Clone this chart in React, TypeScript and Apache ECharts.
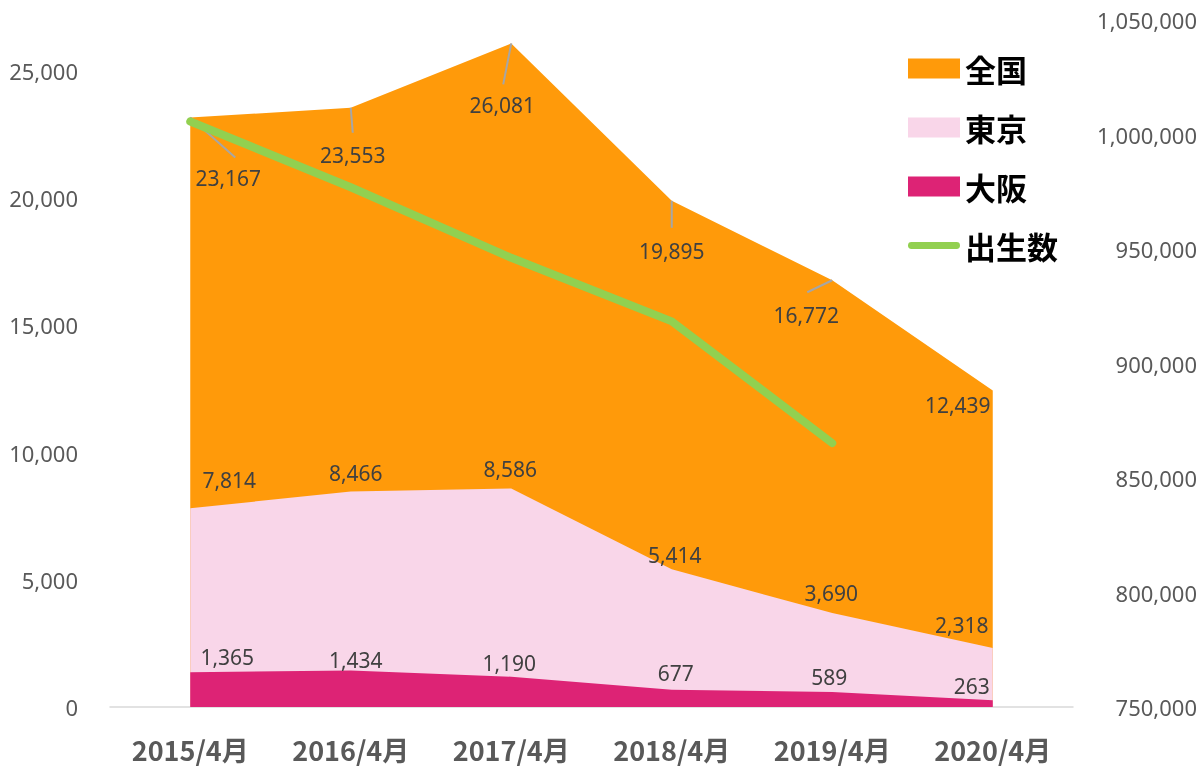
import React, { useEffect, useRef } from "react";
import * as echarts from "echarts";

const categories = ["2015/4月", "2016/4月", "2017/4月", "2018/4月", "2019/4月", "2020/4月"];
const zenkoku = [23167, 23553, 26081, 19895, 16772, 12439];
const tokyo = [7814, 8466, 8586, 5414, 3690, 2318];
const osaka = [1365, 1434, 1190, 677, 589, 263];
const births: (number | null)[] = [1005677, 976978, 946146, 918400, 865239, null];

// label offsets (px) relative to each point
const zenkokuOffsets = [[38, 73], [2, 59], [-9, 74], [0, 62], [-26, 47], [-35, 27]];
const tokyoOffsets = [[39, -16], [5, -7], [-1, -7], [3, -2], [-1, -8], [-31, -11]];
const osakaOffsets = [[37, -3], [5, 2], [-2, -2], [4, -5], [-3, -3], [-21, -2]];
// leader line ends (px) relative to each point; null = no leader
const leaderEnds: (number[] | null)[] = [[45, 40], [2, 25], [-8, 41], [0, 27], [-25, 12], null];

const fmt = (v: number) => v.toLocaleString("en-US");
const FONT = "'Noto Sans', 'Noto Sans CJK JP', sans-serif";
const CJK = "'Noto Sans CJK JP', 'Noto Sans', sans-serif";

export default function App() {
  const ref = useRef<HTMLDivElement>(null);
  useEffect(() => {
    if (!ref.current) return;
    const chart = echarts.init(ref.current, undefined, { renderer: "svg" });
    const areaLabel = {
      show: true,
      position: "top",
      distance: 0,
      color: "#404040",
      fontSize: 21,
      lineHeight: 24,
      fontFamily: FONT,
      formatter: (p: any) => fmt(p.value),
    };
    const mkArea = (name: string, data: number[], color: string, offs: number[][]) => ({
      name,
      type: "line",
      data,
      symbol: "circle",
      symbolSize: 0.1,
      itemStyle: { color },
      lineStyle: { width: 0, color },
      areaStyle: { color, opacity: 1 },
      label: areaLabel,
      labelLayout: (p: any) => ({ dx: offs[p.dataIndex][0], dy: offs[p.dataIndex][1] }),
    });
    const leaderData = zenkoku
      .map((v, i) => [i, v, i])
      .filter((d) => leaderEnds[d[2]] !== null);
    chart.setOption({
      animation: false,
      grid: { left: 110, right: 130, top: 20, bottom: 63 },
      legend: {
        orient: "vertical",
        left: 908,
        top: 53,
        padding: 0,
        itemWidth: 52,
        itemHeight: 20,
        itemGap: 28,
        textStyle: { fontSize: 31, fontWeight: "bold", color: "#000", fontFamily: CJK, lineHeight: 30 },
        data: [
          { name: "全国", icon: "rect" },
          { name: "東京", icon: "rect" },
          { name: "大阪", icon: "rect" },
          { name: "出生数", icon: "path://M4,0 L56,0 A4,4 0 0 1 56,8 L4,8 A4,4 0 0 1 4,0 Z", itemStyle: { color: "#92D050" } },
        ],
      },
      xAxis: {
        type: "category",
        data: categories,
        boundaryGap: true,
        axisLine: { lineStyle: { color: "#D9D9D9", width: 1.5 } },
        axisTick: { show: false },
        axisLabel: { fontSize: 27, lineHeight: 27, fontWeight: "bold", color: "#595959", fontFamily: CJK, margin: 29 },
      },
      yAxis: [
        {
          type: "value",
          min: 0,
          max: 27000,
          interval: 5000,
          splitLine: { show: false },
          axisLine: { show: false },
          axisLabel: {
            fontSize: 22,
            color: "#595959",
            fontFamily: FONT,
            margin: 32,
            showMaxLabel: false,
            formatter: (v: number) => fmt(v),
          },
        },
        {
          type: "value",
          min: 750000,
          max: 1050000,
          interval: 50000,
          splitLine: { show: false },
          axisLine: { show: false },
          axisLabel: {
            fontSize: 22,
            color: "#595959",
            fontFamily: FONT,
            margin: 124,
            align: "right",
            formatter: (v: number) => fmt(v),
          },
        },
      ],
      series: [
        mkArea("全国", zenkoku, "#FF9A0A", zenkokuOffsets),
        mkArea("東京", tokyo, "#F9D6E9", tokyoOffsets),
        mkArea("大阪", osaka, "#DD2375", osakaOffsets),
        {
          name: "leaders",
          type: "custom",
          data: leaderData,
          encode: { x: 0, y: 1 },
          z: 3,
          silent: true,
          renderItem: (params: any, api: any) => {
            const idx = api.value(2);
            const end = leaderEnds[idx] as number[];
            const p = api.coord([api.value(0), api.value(1)]);
            return {
              type: "line",
              shape: { x1: p[0], y1: p[1], x2: p[0] + end[0], y2: p[1] + end[1] },
              style: { stroke: "#A6A6A6", lineWidth: 2 },
            };
          },
        },
        {
          name: "出生数",
          type: "line",
          yAxisIndex: 1,
          data: births,
          symbol: "none",
          itemStyle: { color: "#92D050" },
          lineStyle: { color: "#92D050", width: 8, cap: "round", join: "round" },
          z: 5,
        },
      ],
    });
    return () => chart.dispose();
  }, []);
  return <div ref={ref} style={{ position: "fixed", left: 0, top: 0, width: 1203, height: 770 }} />;
}
